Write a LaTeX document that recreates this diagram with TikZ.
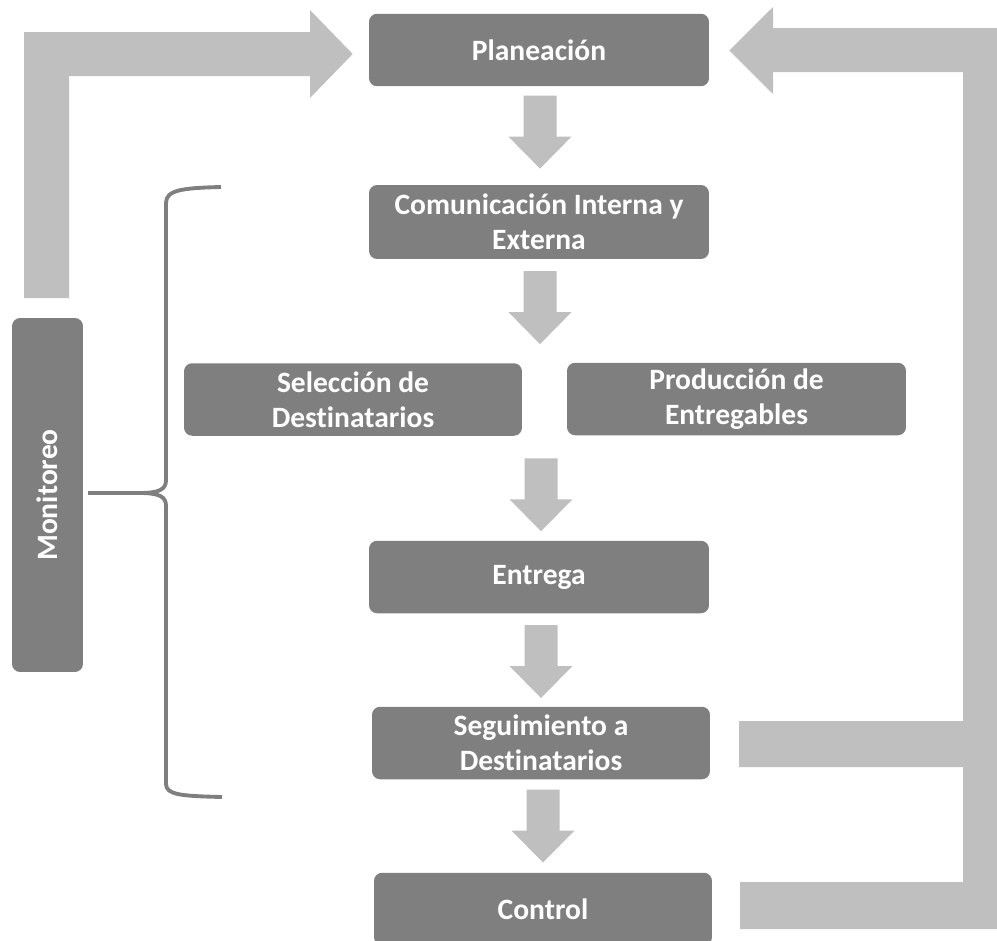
\documentclass[tikz,border=0pt]{standalone}
\usepackage{fontspec}
\setmainfont[Ligatures=NoCommon]{Carlito}
\usetikzlibrary{calc}
\definecolor{boxgray}{HTML}{7F7F7F}
\definecolor{arrgray}{HTML}{BFBFBF}
\begin{document}
\begin{tikzpicture}[x=0.02cm,y=-0.02cm,
  box/.style={fill=boxgray, rounded corners=0.16cm, text=white, align=center,
    font=\fontsize{16.8}{19.8}\selectfont\bfseries, inner sep=0pt,
    minimum width=6.8cm, minimum height=1.45cm},
  downarr/.pic={\fill[arrgray] (-16.5,-36.5) -- (16.5,-36.5) -- (16.5,4.5) -- (31.5,4.5)
      -- (0,36.5) -- (-31.5,4.5) -- (-16.5,4.5) -- cycle;},
  bigarrow/.style={fill=arrgray},
  bracestyle/.style={draw=boxgray, line width=2.2pt}]
\useasboundingbox (0,0) rectangle (997,940);
\clip (0,0) rectangle (997,940);

% boxes
\node[box] (plan) at (539,50) {Planeación};
\node[box, minimum height=1.48cm] (comm) at (539,222) {Comunicación Interna y\\Externa};
\node[box, minimum width=6.76cm] (sel) at (353,399.5) {Selección de\\Destinatarios};
\node[box, minimum width=6.78cm] (prod) at (736.5,399) {Producción de\\Entregables};
\node[box] (entr) at (539,577) {Entrega};
\node[box, minimum width=6.76cm] (seg) at (541,743) {Seguimiento a\\Destinatarios};
\node[box, minimum width=6.76cm] (ctrl) at (543,909) {Control};
\node[box, rotate=90, minimum width=7.08cm, minimum height=1.42cm] (mon) at (47.5,495) {Monitoreo};

% down arrows
\path ($(plan.south)!0.5!(comm.north)$) ++(1,-3.5) pic {downarr};
\path ($(comm.south)!0.5!(sel.north -| comm.south)$) ++(1,-3.5) pic {downarr};
\path ($(sel.south -| entr.north)!0.5!(entr.north)$) ++(2,6.5) pic {downarr};
\path ($(entr.south)!0.5!(seg.north -| entr.south)$) ++(2,1.5) pic {downarr};
\path ($(seg.south)!0.5!(ctrl.north -| seg.south)$) ++(2,0) pic {downarr};

% left feedback arrow (Monitoreo -> Planeación)
\coordinate (ltip) at ($(plan.west)+(-16,4)$);
\fill[arrgray] (24,298) -- (24,32) -- (310,32) -- (310,10) -- (ltip) -- (310,98)
  -- (310,76) -- (69,76) -- (69,298) -- cycle;

% right feedback arrow (Seguimiento, Control -> Planeación)
\coordinate (rtip) at ($(plan.east)+(20,0.5)$);
\fill[arrgray] (rtip) -- (773,7) -- (773,28) -- (1008,28) -- (1008,929) -- (740,929)
  -- (740,882) -- (963,882) -- (963,767) -- (739,767) -- (739,721) -- (963,721)
  -- (963,72) -- (773,72) -- (773,94) -- cycle;

% brace
\coordinate (btip) at (88,493);
\draw[bracestyle] (221,187) .. controls (182,188) and (166,190) .. (166,203)
  -- (166,480) .. controls (166,489) and (160,493) .. (140,493) -- (btip);
\draw[bracestyle] (btip) -- (140,493) .. controls (160,493) and (166,497) .. (166,506)
  -- (166,784) .. controls (166,795) and (182,796) .. (222,797);
\end{tikzpicture}
\end{document}
